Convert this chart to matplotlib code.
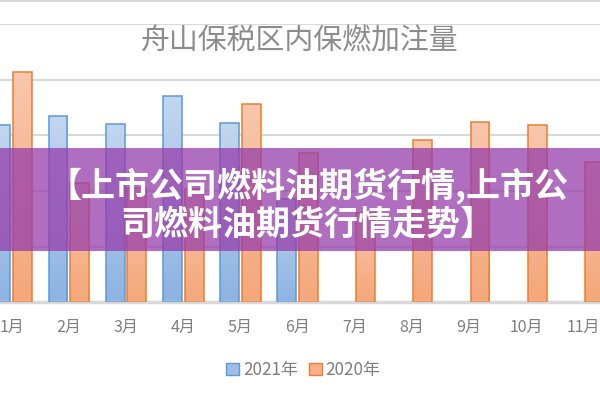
import numpy as np
import matplotlib
matplotlib.use('Agg')
import matplotlib.pyplot as plt
from matplotlib.patches import Rectangle, Patch
from matplotlib.colors import LinearSegmentedColormap
from matplotlib.lines import Line2D

plt.rcParams['font.family'] = ['Noto Sans CJK SC', 'DejaVu Sans']

# --- dados ---
meses = ['1月', '2月', '3月', '4月', '5月', '6月', '7月', '8月', '9月', '10月', '11月']
valores_2021 = [31.9, 33.4, 32.0, 37.1, 32.2, 18.5]
valores_2020 = [41.3, 21.4, 20.6, 20.3, 35.6, 26.9, 16.0, 29.2, 32.4, 31.9, 25.2]
titulo = '舟山保税区内保燃加注量'
faixa = '【上市公司燃料油期货行情,上市公\n司燃料油期货行情走势】'

fig = plt.figure(figsize=(6, 4), dpi=100)
ax = fig.add_axes([0, 0.244, 1, 0.696])

largura = 0.33
desloc = 0.19
x = np.arange(len(meses))

# gradiente por barra (claro em cima, mais forte embaixo)
cmap_azul = LinearSegmentedColormap.from_list('az', ['#8DB3E2', '#C2D6EF'])
cmap_lar = LinearSegmentedColormap.from_list('la', ['#F4A77A', '#F8C7AC'])
grad = np.linspace(0, 1, 100).reshape(-1, 1)

def barras(xs, ys, cmap, borda):
    for xi, yi in zip(xs, ys):
        x0 = xi - largura / 2
        ret = Rectangle((x0, 0), largura, yi, facecolor='none',
                        edgecolor=borda, linewidth=1.1, zorder=3)
        ax.add_patch(ret)
        im = ax.imshow(grad, cmap=cmap, origin='lower', aspect='auto',
                       extent=[x0, x0 + largura, 0, yi], zorder=2)
        im.set_clip_path(ret)

barras(x[:len(valores_2021)] - desloc, valores_2021, cmap_azul, '#5B9BD5')
barras(x + desloc, valores_2020, cmap_lar, '#ED7D31')

ax.set_xlim(-0.203, 10.287)
ax.set_ylim(0, 50)
ax.set_yticks(np.arange(0, 51, 10))
ax.yaxis.grid(True, color='#D9D9D9', linewidth=1.5)
ax.set_axisbelow(True)
for s in ['top', 'right', 'left']:
    ax.spines[s].set_visible(False)
ax.spines['bottom'].set_color('#D9D9D9')
ax.spines['bottom'].set_linewidth(2.5)
ax.tick_params(axis='y', left=False, labelleft=False)
ax.set_xticks(x)
ax.set_xticklabels(meses, fontsize=11.5, color='#7F7F7F')
ax.tick_params(axis='x', length=0, pad=12)

fig.add_artist(Line2D([0, 1], [0.997, 0.997], color='#D9D9D9', linewidth=1.5))
fig.text(0.5, 0.897, titulo, ha='center', va='center', fontsize=20.8, color='#8C8C8C')

leg = [Patch(facecolor='#9DBFE7', edgecolor='#5B9BD5', label='2021年'),
       Patch(facecolor='#F6B08A', edgecolor='#ED7D31', label='2020年')]
fig.legend(handles=leg, loc='center', bbox_to_anchor=(0.506, 0.075), ncol=2,
           frameon=False, fontsize=12.3, labelcolor='#7F7F7F', handlelength=0.75,
           handleheight=0.75, handletextpad=0.25, columnspacing=0.6)

# faixa roxa por cima
fig.add_artist(Rectangle((0, 0.3725), 1, 0.2575, transform=fig.transFigure,
                         facecolor=(0.59, 0.24, 0.67), alpha=0.75, edgecolor='none', zorder=10))
fig.text(0.513, 0.49, faixa, ha='center', va='center', fontsize=24.5, fontweight='bold',
         color='white', linespacing=1.1, zorder=11)

fig.savefig('out.png', dpi=100)
